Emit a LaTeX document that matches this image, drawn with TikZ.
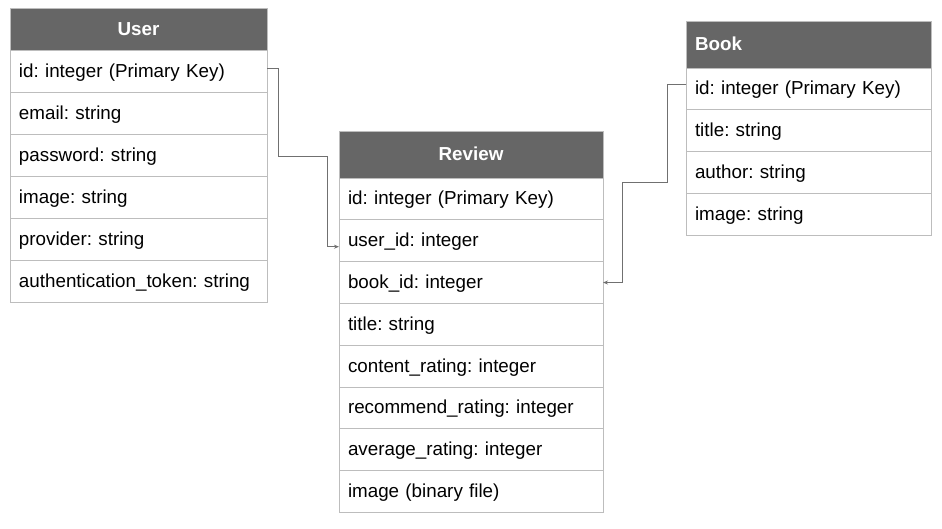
\documentclass[tikz,border=0pt]{standalone}
\usepackage{fontspec}
\setmainfont{Liberation Sans}
\usetikzlibrary{positioning,arrows.meta}
\definecolor{headgray}{HTML}{666666}
\definecolor{linegray}{HTML}{BDBDBD}
\definecolor{wiregray}{HTML}{707070}
\frenchspacing

\begin{document}
\begin{tikzpicture}[x=1pt, y=-1pt,
	field/.style={draw=linegray, line width=1pt, fill=white, outer sep=0pt, inner xsep=9pt, inner ysep=0pt, minimum height=41.8pt, align=left, text height=14.5pt, text depth=2.5pt, font=\fontsize{18.8}{22}\selectfont},
	head/.style={field, fill=headgray, text=white, minimum height=47pt, font=\fontsize{18.8}{22}\selectfont\bfseries},
	link/.style={draw=wiregray, line width=0.9pt, -{Stealth[length=5pt, width=4pt]}}]
	\useasboundingbox (0, 0) rectangle (942, 528);

	\node[head, text width=239pt, align=center, minimum height=41.5pt, anchor=north west] (user) at (10, 8.5) {User};
	\node[field, text width=239pt, minimum height=42pt, below=0pt of user] (uid) {id: integer (Primary Key)};
	\node[field, text width=239pt, minimum height=42pt, below=0pt of uid] (uemail) {email: string};
	\node[field, text width=239pt, minimum height=42pt, below=0pt of uemail] (upass) {password: string};
	\node[field, text width=239pt, minimum height=42pt, below=0pt of upass] (uimage) {image: string};
	\node[field, text width=239pt, minimum height=42pt, below=0pt of uimage] (uprov) {provider: string};
	\node[field, text width=239pt, minimum height=42pt, below=0pt of uprov] (utoken) {authentication\_token: string};

	\node[head, text width=246pt, align=center, anchor=north west] (review) at (339, 131) {Review};
	\node[field, text width=246pt, below=0pt of review] (rid) {id: integer (Primary Key)};
	\node[field, text width=246pt, below=0pt of rid] (ruser) {user\_id: integer};
	\node[field, text width=246pt, below=0pt of ruser] (rbook) {book\_id: integer};
	\node[field, text width=246pt, below=0pt of rbook] (rtitle) {title: string};
	\node[field, text width=246pt, below=0pt of rtitle] (rcontent) {content\_rating: integer};
	\node[field, text width=246pt, below=0pt of rcontent] (rrecommend) {recommend\_rating: integer};
	\node[field, text width=246pt, below=0pt of rrecommend] (raverage) {average\_rating: integer};
	\node[field, text width=246pt, below=0pt of raverage] (rimage) {image (binary file)};

	\node[head, text width=227pt, anchor=north west] (book) at (686, 21) {Book};
	\node[field, text width=227pt, below=0pt of book] (bid) {id: integer (Primary Key)};
	\node[field, text width=227pt, below=0pt of bid] (btitle) {title: string};
	\node[field, text width=227pt, below=0pt of btitle] (bauthor) {author: string};
	\node[field, text width=227pt, below=0pt of bauthor] (bimage) {image: string};

	\draw[link] ([yshift=3pt]uid.east) -| ++(11, 88.5) -| ([xshift=-12pt, yshift=-6pt]ruser.west) -- ([yshift=-6pt]ruser.west);
	\draw[link] ([yshift=4pt]bid.west) -| ++(-19, 98) -| ([xshift=19pt]rbook.east) -- (rbook.east);
\end{tikzpicture}
\end{document}
